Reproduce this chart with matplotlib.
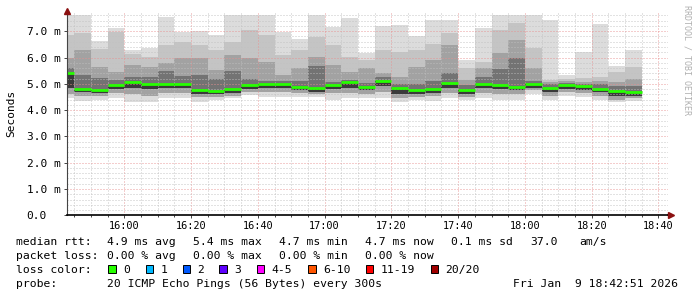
import matplotlib
matplotlib.use('Agg')
import matplotlib.pyplot as plt
import numpy as np
from matplotlib.ticker import MultipleLocator, FixedLocator
from matplotlib.patches import Rectangle

# ---------------- data (milliseconds) ----------------
times = ["15:45", "15:50", "15:55", "16:00", "16:05", "16:10", "16:15", "16:20",
         "16:25", "16:30", "16:35", "16:40", "16:45", "16:50", "16:55", "17:00",
         "17:05", "17:10", "17:15", "17:20", "17:25", "17:30", "17:35", "17:40",
         "17:45", "17:50", "17:55", "18:00", "18:05", "18:10", "18:15", "18:20",
         "18:25", "18:30", "18:35"]

ping_max = [7.62, 7.62, 6.63, 7.11, 6.29, 6.35, 7.55, 6.98, 7.02, 6.85, 7.62, 7.62,
            7.62, 6.98, 6.69, 7.62, 7.17, 7.49, 6.18, 7.20, 7.23, 6.83, 7.42, 7.42,
            5.90, 7.11, 7.62, 7.62, 7.62, 7.43, 5.33, 6.22, 7.27, 5.67, 6.29]
ping_up3 = [6.85, 6.94, 6.31, 6.98, 6.12, 6.03, 6.47, 6.60, 6.47, 6.28, 6.60, 7.05,
            6.85, 6.10, 6.30, 6.79, 6.47, 6.03, 5.90, 6.28, 6.22, 6.30, 6.53, 6.92,
            5.60, 5.84, 7.04, 7.30, 6.36, 5.15, 5.20, 5.21, 5.25, 5.45, 5.65]
ping_up2 = [6.00, 6.28, 5.65, 5.46, 5.71, 5.65, 5.78, 5.97, 5.97, 5.52, 6.10, 5.97,
            5.84, 5.33, 5.60, 6.03, 5.71, 5.46, 5.59, 5.40, 5.27, 5.65, 5.90, 6.47,
            5.15, 5.59, 6.16, 6.66, 5.60, 5.05, 5.10, 5.08, 5.10, 5.05, 5.20]
ping_up1 = [5.60, 5.33, 5.21, 5.15, 5.27, 5.27, 5.50, 5.30, 5.33, 5.20, 5.50, 5.20,
            5.10, 5.10, 5.10, 5.67, 5.08, 5.15, 5.02, 5.25, 5.00, 5.00, 5.10, 5.40,
            4.95, 5.27, 5.55, 5.98, 5.10, 4.98, 5.02, 5.00, 4.98, 4.90, 4.90]
median   = [5.42, 4.82, 4.78, 4.96, 5.08, 4.98, 5.00, 5.01, 4.76, 4.73, 4.79, 4.94,
            5.00, 5.00, 4.88, 4.85, 4.96, 5.07, 4.89, 5.10, 4.85, 4.78, 4.80, 5.03,
            4.78, 5.00, 4.95, 4.87, 4.99, 4.84, 4.95, 4.91, 4.82, 4.72, 4.70]
ping_lo1 = [4.85, 4.68, 4.66, 4.82, 4.85, 4.80, 4.85, 4.85, 4.62, 4.62, 4.65, 4.82,
            4.85, 4.85, 4.78, 4.70, 4.82, 4.85, 4.75, 4.90, 4.60, 4.60, 4.65, 4.85,
            4.60, 4.85, 4.80, 4.75, 4.85, 4.70, 4.80, 4.78, 4.70, 4.55, 4.55]
ping_lo2 = [4.60, 4.55, 4.55, 4.65, 4.60, 4.55, 4.65, 4.65, 4.50, 4.50, 4.55, 4.70,
            4.70, 4.70, 4.65, 4.60, 4.65, 4.65, 4.60, 4.70, 4.45, 4.50, 4.55, 4.65,
            4.50, 4.65, 4.60, 4.60, 4.75, 4.55, 4.70, 4.65, 4.55, 4.40, 4.45]
ping_min = [4.45, 4.36, 4.38, 4.45, 4.32, 4.32, 4.45, 4.45, 4.32, 4.40, 4.45, 4.58,
            4.48, 4.48, 4.50, 4.48, 4.38, 4.45, 4.45, 4.45, 4.32, 4.40, 4.35, 4.45,
            4.38, 4.45, 4.38, 4.38, 4.62, 4.40, 4.55, 4.50, 4.40, 4.30, 4.35]

y_ticks = [0, 1, 2, 3, 4, 5, 6, 7]
y_tick_labels = ["0.0", "1.0 m", "2.0 m", "3.0 m", "4.0 m", "5.0 m", "6.0 m", "7.0 m"]
x_tick_labels = ["16:00", "16:20", "16:40", "17:00", "17:20", "17:40", "18:00", "18:20", "18:40"]

loss_labels = ["0", "1", "2", "3", "4-5", "6-10", "11-19", "20/20"]
loss_colors = ["#26ff00", "#00b8ff", "#0059ff", "#5e00ff", "#ff00ff", "#ff5500", "#ff0000", "#a00000"]

stats_rtt = ["4.9 ms avg", "5.4 ms max", "4.7 ms min", "4.7 ms now", "0.1 ms sd", "37.0", "am/s"]
stats_loss = ["0.00 % avg", "0.00 % max", "0.00 % min", "0.00 % now"]

# ---------------- figure ----------------
W, H = 697, 297
fig = plt.figure(figsize=(W / 100, H / 100), dpi=100)
fig.patch.set_facecolor('white')
MONO = 'DejaVu Sans Mono'

ax_l, ax_r, ax_t, ax_b = 67, 668, 11.3, 215.3
ax = fig.add_axes([ax_l / W, 1 - ax_b / H, (ax_r - ax_l) / W, (ax_b - ax_t) / H])


def to_min(s):
    h, m = s.split(':')
    return int(h) * 60 + int(m)


ends = np.array([to_min(t) for t in times], float)
starts = ends - 5
t0 = 15 * 60 + 42 + 51 / 60.0
ax.set_xlim(t0, t0 + 180)
ax.set_ylim(0, 7.757)

mx = np.array(ping_max); u3 = np.array(ping_up3); u2 = np.array(ping_up2)
u1 = np.array(ping_up1); md = np.array(median)
l1 = np.array(ping_lo1); l2 = np.array(ping_lo2); mn = np.array(ping_min)

bands = [(mn, mx, '#dcdcdc'), (l2, u3, '#c4c4c4'), (l2, u2, '#a2a2a2'),
         (l1, u1, '#737373'), (l1, md, '#3a3a3a')]
for lo, hi, c in bands:
    ax.bar(starts, hi - lo, bottom=lo, width=5, align='edge', color=c, linewidth=0, zorder=1)

ax.hlines(md, starts, ends, colors=loss_colors[0], lw=2.0, zorder=4)

# grid
ax.xaxis.set_major_locator(FixedLocator([to_min(t) for t in x_tick_labels]))
ax.xaxis.set_minor_locator(MultipleLocator(5))
ax.set_xticklabels(x_tick_labels)
ax.yaxis.set_major_locator(FixedLocator(y_ticks))
ax.yaxis.set_minor_locator(MultipleLocator(0.2))
ax.set_yticklabels(y_tick_labels)
ax.set_axisbelow(False)
ax.grid(which='minor', color='#c0c0c0', linestyle=(0, (1, 2)), lw=0.72, alpha=0.9)
ax.grid(which='major', color='#e89090', linestyle=(0, (1, 2)), lw=0.72, alpha=0.9)

for s in ['top', 'right']:
    ax.spines[s].set_visible(False)
ax.spines['left'].set_color('#444444')
ax.spines['left'].set_linewidth(0.8)
ax.spines['bottom'].set_color('#000000')
ax.spines['bottom'].set_linewidth(1.2)
ax.spines['left'].set_zorder(5)
ax.spines['bottom'].set_zorder(5)

ax.tick_params(axis='x', which='major', length=2, width=0.7, color='#444444', pad=2,
               labelsize=7.4, labelcolor='#000000')
ax.tick_params(axis='x', which='minor', length=1.5, width=0.7, color='#444444')
ax.tick_params(axis='y', which='major', length=2, width=0.7, color='#444444',
               pad=27.0, labelsize=8, labelcolor='#000000')
ax.tick_params(axis='y', which='minor', length=0)
for lab in ax.get_xticklabels() + ax.get_yticklabels():
    lab.set_family(MONO)
for lab in ax.get_yticklabels():
    lab.set_horizontalalignment('left')

# arrows on axes
ax.plot([0], [1], marker='^', ms=4, color='#8b1010', transform=ax.transAxes, clip_on=False, zorder=6)
ax.plot([1, 1.005], [0, 0], color='#000000', lw=1.2, transform=ax.transAxes, clip_on=False, zorder=6)
ax.plot([1.005], [0], marker='>', ms=4, color='#8b1010', transform=ax.transAxes, clip_on=False, zorder=6)


def ftext(x, y, s, **kw):
    kw.setdefault('family', MONO)
    kw.setdefault('fontsize', 8.2)
    kw.setdefault('va', 'baseline')
    kw.setdefault('ha', 'left')
    fig.text(x / W, 1 - y / H, s, **kw)


ftext(11, 113, "Seconds", rotation=90, va='center', ha='center', fontsize=8)
ftext(687, 60, "RRDTOOL / TOBI OETIKER", rotation=270, va='center', ha='center',
      fontsize=6, color='#b0b0b0')

# legend lines
ftext(16, 245, "median rtt:")
for s, x in zip(stats_rtt, [107, 193, 279, 365, 451, 530, 579]):
    ftext(x, 245, s)
ftext(16, 259, "packet loss:")
for s, x in zip(stats_loss, [107, 193, 279, 365]):
    ftext(x, 259, s)
ftext(16, 273, "loss color:")
box_x = [108.3, 145.7, 182.7, 219.3, 256.7, 308.3, 366, 430.7]
for lab, col, bx in zip(loss_labels, loss_colors, box_x):
    fig.add_artist(Rectangle((bx / W, 1 - 272.5 / H), 7.3 / W, 7.3 / H,
                             transform=fig.transFigure, facecolor=col,
                             edgecolor='black', linewidth=0.7))
    ftext(bx + 14.5, 273, lab)
ftext(16, 287, "probe:")
ftext(107, 287, "20 ICMP Echo Pings (56 Bytes) every 300s")
ftext(513, 287, "Fri Jan  9 18:42:51 2026")

fig.savefig('out.png', dpi=100, facecolor='white')
